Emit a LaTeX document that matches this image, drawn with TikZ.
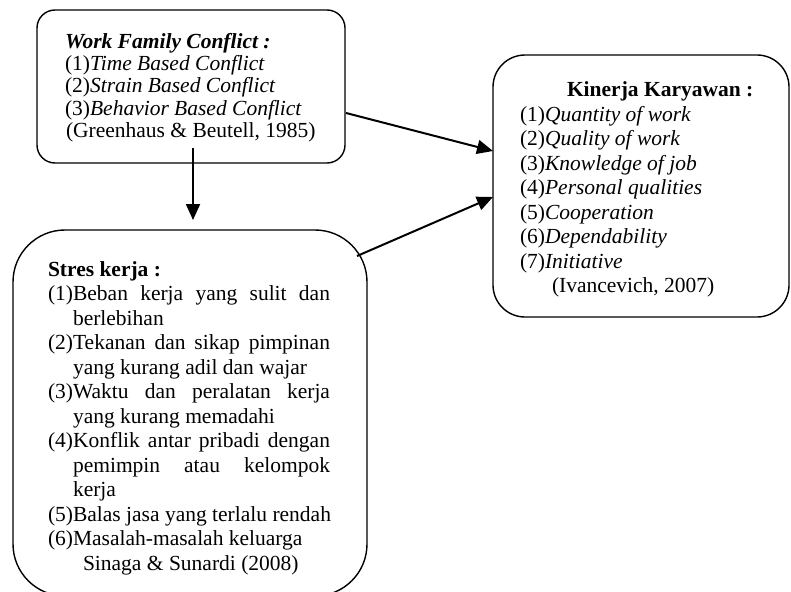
\documentclass[tikz,border=0pt]{standalone}
\usepackage{fontspec}
\setmainfont{Liberation Serif}
\usetikzlibrary{arrows.meta,calc}
\tikzset{
  box/.style={draw, line width=1.4pt, rectangle, inner sep=0pt, outer sep=0pt},
  txt/.style={anchor=base west, inner sep=0pt, outer sep=0pt, font=\fontsize{21.5}{24}\selectfont},
  conn/.style={line width=2pt, -{Triangle[length=16pt,width=14pt]}},
}
\begin{document}
\begin{tikzpicture}[x=1pt,y=-1pt]
\useasboundingbox (0,0) rectangle (791,591);
% boxes
\node[box, rounded corners=18pt, minimum width=308pt, minimum height=153pt] (b1) at (191,86.5) {};
\node[box, rounded corners=52pt, minimum width=354pt, minimum height=366pt] (b2) at (190,413) {};
\node[box, rounded corners=32pt, minimum width=296pt, minimum height=262pt] (b3) at (641,186) {};
% box 1 text
\node[txt] (w0) at (65,48.3) {\textbf{\textit{Work Family Conflict :}}};
\node[txt] (w1) at (65,70.6) {(1)\textit{Time Based Conflict}};
\node[txt] (w2) at (65,92.9) {(2)\textit{Strain Based Conflict}};
\node[txt] (w3) at (65,115.2) {(3)\textit{Behavior Based Conflict}};
\node[txt] (w4) at (66,137.5) {(Greenhaus \& Beutell, 1985)};
% box 2 text
\node[txt] (s0) at (48,276) {\textbf{Stres kerja :}};
\node[txt] (s1) at (48,300.5) {\makebox[282pt][s]{(1)Beban kerja yang sulit dan}};
\node[txt] (s1b) at (73,325) {berlebihan};
\node[txt] (s2) at (48,349.5) {\makebox[282pt][s]{(2)Tekanan dan sikap pimpinan}};
\node[txt] (s2b) at (73,374) {yang kurang adil dan wajar};
\node[txt] (s3) at (48,398.5) {\makebox[282pt][s]{(3)Waktu dan peralatan kerja}};
\node[txt] (s3b) at (73,423) {yang kurang memadahi};
\node[txt] (s4) at (48,447.5) {\makebox[282pt][s]{(4)Konflik antar pribadi dengan}};
\node[txt] (s4b) at (73,472) {\makebox[257pt][s]{pemimpin atau kelompok}};
\node[txt] (s4c) at (73,496.5) {kerja};
\node[txt] (s5) at (48,521) {(5)Balas jasa yang terlalu rendah};
\node[txt] (s6) at (48,545.5) {(6)Masalah-masalah keluarga};
\node[txt] (s7) at (83,570) {Sinaga \& Sunardi (2008)};
% box 3 text
\node[txt] (k0) at (567,96.7) {\textbf{Kinerja Karyawan :}};
\node[txt] (k1) at (520,121.2) {(1)\textit{Quantity of work}};
\node[txt] (k2) at (520,145.7) {(2)\textit{Quality of work}};
\node[txt] (k3) at (520,170.2) {(3)\textit{Knowledge of job}};
\node[txt] (k4) at (520,194.7) {(4)\textit{Personal qualities}};
\node[txt] (k5) at (520,219.2) {(5)\textit{Cooperation}};
\node[txt] (k6) at (520,243.7) {(6)\textit{Dependability}};
\node[txt] (k7) at (520,268.2) {(7)\textit{Initiative}};
\node[txt] (k8) at (552,292.7) {(Ivancevich, 2007)};
% connectors
\draw[conn] ($(b1.south)+(2,-15)$) -- ($(b2.north)+(3,-10)$);
\draw[conn] ($(b1.east)+(1,26.5)$) -- ($(b3.west)+(0,-35)$);
\draw[conn] ($(b2.north east)+(-10,26)$) -- ($(b3.west)+(0,11)$);
\end{tikzpicture}
\end{document}
